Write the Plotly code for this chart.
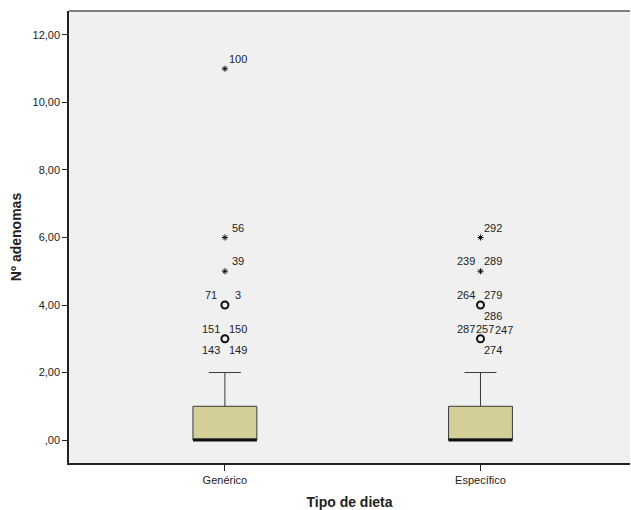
import plotly.graph_objects as go

# ---- data ----
categories = ["Genérico", "Específico"]
q1 = [0, 0]
median = [0, 0]
q3 = [1, 1]
lower_fence = [0, 0]
upper_fence = [2, 2]

# outliers (circles) and extremes (stars): category index, value
outlier_cat = [0, 0, 1, 1]
outlier_val = [3, 4, 3, 4]
extreme_cat = [0, 0, 0, 1, 1]
extreme_val = [5, 6, 11, 5, 6]

# case labels: category index, value, label text, placement
label_cat = [0, 0, 0, 0, 0, 0, 0, 0, 0,
             1, 1, 1, 1, 1, 1, 1, 1, 1, 1]
label_val = [3, 3, 3, 3, 4, 4, 5, 6, 11,
             3, 3, 3, 3, 4, 4, 4, 5, 5, 6]
label_txt = ["151", "150", "143", "149", "71", "3", "39", "56", "100",
             "287", "257", "247", "274", "264", "279", "286", "239", "289", "292"]
label_pos = ["ul", "ur", "ll", "lr", "ul", "ur", "ur", "ur", "ur",
             "ul", "uc", "r", "lr", "ul", "ur", "lr", "ul", "ur", "ur"]

y_ticks = [0, 2, 4, 6, 8, 10, 12]
y_tick_text = [",00", "2,00", "4,00", "6,00", "8,00", "10,00", "12,00"]

# ---- styling ----
BOX_W = 0.25
FONT = "Liberation Sans, Arial, sans-serif"
shift = {"ul": (-14, 10), "ur": (13, 10), "ll": (-14, -11), "lr": (13, -11),
         "uc": (5, 10), "r": (24, 9)}

fig = go.Figure()

for i, c in enumerate(categories):
    fig.add_trace(go.Box(
        x=[i], q1=[q1[i]], median=[median[i]], q3=[q3[i]],
        lowerfence=[lower_fence[i]], upperfence=[upper_fence[i]],
        width=BOX_W, whiskerwidth=0.5, boxpoints=False,
        fillcolor="#d4cf98", line=dict(color="#3a3a3a", width=1),
        name=c, showlegend=False, hoverinfo="skip"))
    # thick median line
    fig.add_trace(go.Scatter(
        x=[i - BOX_W / 2, i + BOX_W / 2], y=[median[i], median[i]],
        mode="lines", line=dict(color="#111111", width=3),
        showlegend=False, hoverinfo="skip"))

fig.add_trace(go.Scatter(
    x=outlier_cat, y=outlier_val, mode="markers",
    marker=dict(symbol="circle-open", size=7, color="#111111",
                line=dict(width=2, color="#111111")),
    showlegend=False, hoverinfo="skip"))
fig.add_trace(go.Scatter(
    x=extreme_cat, y=extreme_val, mode="markers",
    marker=dict(symbol="asterisk-open", size=5, color="#111111",
                line=dict(width=1, color="#111111")),
    showlegend=False, hoverinfo="skip"))

for c, v, t, p in zip(label_cat, label_val, label_txt, label_pos):
    dx, dy = shift[p]
    fig.add_annotation(x=c, y=v, text=t, showarrow=False,
                       xshift=dx, yshift=dy,
                       font=dict(family=FONT, size=11, color="#222222"))

fig.add_shape(type="line", xref="paper", yref="paper", x0=0, x1=1, y0=1, y1=1,
              line=dict(color="#808080", width=2))

fig.update_layout(
    width=631, height=510,
    margin=dict(l=69, r=1, t=11, b=45),
    paper_bgcolor="white", plot_bgcolor="#f0f0f0",
    font=dict(family=FONT, size=11, color="#222222"),
    xaxis=dict(range=[-0.61, 1.585], tickvals=[0, 1], ticktext=categories,
               showgrid=False, zeroline=False, showline=True,
               linecolor="#222222", linewidth=1.5,
               ticks="outside", ticklen=6, tickcolor="#222222",
               tickfont=dict(size=11),
               title=dict(text="<b>Tipo de dieta</b>", font=dict(size=14),
                          standoff=13)),
    yaxis=dict(range=[-0.68, 12.71], tickvals=y_ticks, ticktext=y_tick_text,
               showgrid=False, zeroline=False, showline=True,
               linecolor="#222222", linewidth=1.5,
               ticks="outside", ticklen=5, tickcolor="#222222",
               tickfont=dict(size=11),
               title=dict(text="<b>Nº adenomas</b>", font=dict(size=14),
                          standoff=8)),
)

fig.write_html("out.html", config={"displayModeBar": False},
               post_script="document.body.style.margin='0';"
                           "document.body.style.overflow='hidden';")
